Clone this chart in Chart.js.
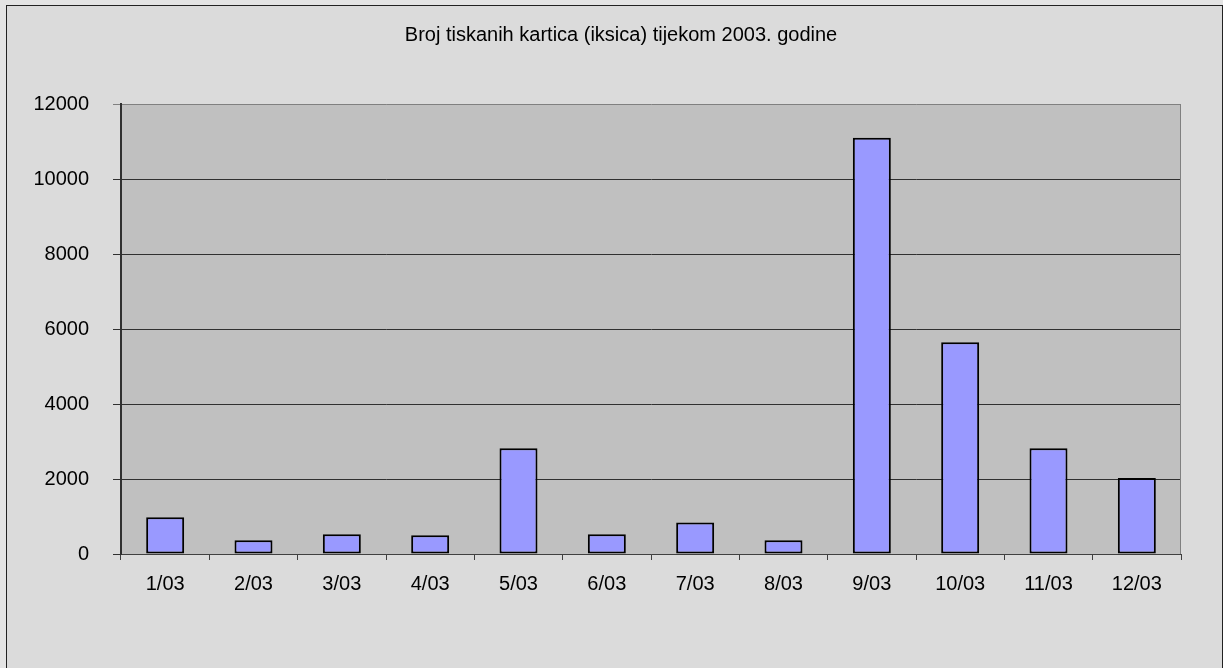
<!DOCTYPE html>
<html>
<head>
<meta charset="utf-8">
<script src="https://cdn.jsdelivr.net/npm/chart.js@4.4.1/dist/chart.umd.min.js"></script>
<style>
    html, body { margin: 0; padding: 0; background: #e4e4e4; overflow: hidden; }
    #frame {
        position: absolute; left: 6px; top: 5px; width: 1215px; height: 700px;
        border-left: 1px solid #222; border-top: 1px solid #222; border-right: 1px solid #222;
        background: #dbdbdb;
    }
    #wrap { position: absolute; left: 0; top: 0; width: 1223px; height: 668px; }
</style>
</head>
<body>
<div id="frame"></div>
<div id="wrap"><canvas id="chart" width="1223" height="668"></canvas></div>
<script>
const titleText = 'Broj tiskanih kartica (iksica) tijekom 2003. godine';
const months = ['1/03', '2/03', '3/03', '4/03', '5/03', '6/03', '7/03', '8/03', '9/03', '10/03', '11/03', '12/03'];
const cards = [980, 370, 530, 500, 2820, 530, 840, 370, 11100, 5650, 2820, 2030];
const yTicks = [0, 2000, 4000, 6000, 8000, 10000, 12000];

const fontFamily = '"Liberation Sans", Arial, sans-serif';

// plot area fill + grey right border, like the spreadsheet original
const plotArea = {
    id: 'plotArea',
    beforeDraw(chart) {
        const { ctx, chartArea: a } = chart;
        ctx.save();
        ctx.fillStyle = '#c0c0c0';
        ctx.fillRect(a.left, a.top, a.right - a.left, a.bottom - a.top);
        ctx.restore();
    },
    afterDatasetsDraw(chart) {
        const { ctx, chartArea: a } = chart;
        ctx.save();
        ctx.strokeStyle = '#808080';
        ctx.lineWidth = 1;
        ctx.beginPath();
        ctx.moveTo(a.right - 0.5, a.top);
        ctx.lineTo(a.right - 0.5, a.bottom);
        ctx.stroke();
        ctx.restore();
    }
};

// title sits a bit right of the canvas centre in the original, so draw it by hand
const chartTitle = {
    id: 'chartTitle',
    afterDraw(chart) {
        const { ctx, chartArea: a } = chart;
        ctx.save();
        ctx.fillStyle = '#000';
        ctx.font = '20px ' + fontFamily;
        ctx.textAlign = 'center';
        ctx.textBaseline = 'alphabetic';
        ctx.fillText(titleText, (a.left + a.right) / 2 - 30, 41);
        ctx.restore();
    }
};

new Chart(document.getElementById('chart'), {
    type: 'bar',
    data: {
        labels: months,
        datasets: [{
            data: cards,
            backgroundColor: '#9999ff',
            borderColor: '#000000',
            borderWidth: 2,
            borderSkipped: false,
            barPercentage: 0.43,
            categoryPercentage: 1.0
        }]
    },
    options: {
        responsive: false,
        animation: false,
        layout: { padding: { left: 0, right: 42, top: 104, bottom: 0 } },
        plugins: {
            legend: { display: false },
            tooltip: { enabled: false },
            title: { display: false }
        },
        scales: {
            x: {
                offset: true,
                grid: {
                    offset: true,
                    drawOnChartArea: false,
                    drawTicks: true,
                    tickLength: 6,
                    color: '#404040'
                },
                border: { color: '#404040', width: 1 },
                ticks: {
                    color: '#000',
                    padding: 12,
                    maxRotation: 0,
                    autoSkip: false,
                    font: { family: fontFamily, size: 20 }
                },
                afterFit(scale) { scale.height = 114; }
            },
            y: {
                min: 0,
                max: 12000,
                afterBuildTicks(scale) { scale.ticks = yTicks.map(v => ({ value: v })); },
                grid: {
                    tickLength: 8,
                    color: ctx => (ctx.tick && ctx.tick.value === 12000) ? '#808080' : '#303030',
                    lineWidth: 1
                },
                border: { color: '#303030', width: 2 },
                ticks: {
                    color: '#000',
                    padding: 24,
                    font: { family: fontFamily, size: 20 },
                    callback: v => String(v)
                },
                afterFit(scale) { scale.width = 121; }
            }
        }
    },
    plugins: [plotArea, chartTitle]
});
</script>
</body>
</html>
